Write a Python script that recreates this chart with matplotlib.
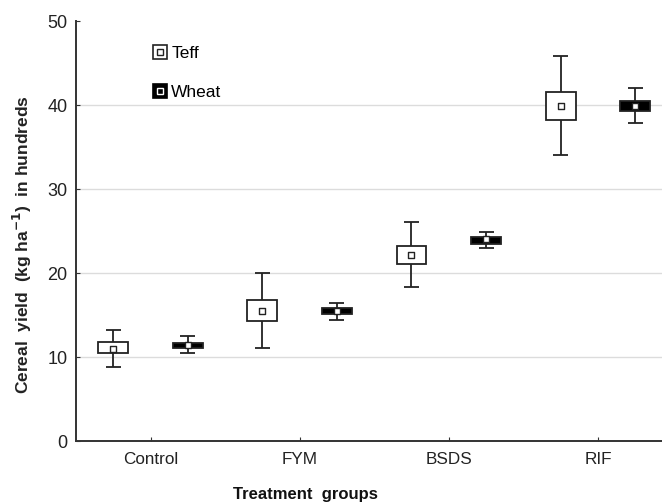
import matplotlib
matplotlib.use("Agg")
import matplotlib.pyplot as plt
import numpy as np

plt.rcParams['font.family'] = ['Liberation Sans', 'DejaVu Sans']

categories = ["Control", "FYM", "BSDS", "RIF"]

teff_mean = [11.0, 15.5, 22.1, 39.9]
teff_box_low = [10.45, 14.3, 21.1, 38.2]
teff_box_high = [11.75, 16.8, 23.25, 41.6]
teff_whisk_low = [8.8, 11.1, 18.3, 34.0]
teff_whisk_high = [13.25, 20.0, 26.1, 45.8]

wheat_mean = [11.4, 15.45, 24.0, 39.9]
wheat_box_low = [11.1, 15.1, 23.5, 39.3]
wheat_box_high = [11.7, 15.8, 24.3, 40.5]
wheat_whisk_low = [10.5, 14.4, 23.0, 37.9]
wheat_whisk_high = [12.45, 16.45, 24.9, 42.0]

yticks = [0, 10, 20, 30, 40, 50]

fig = plt.figure(figsize=(6.62, 5.04), dpi=100)
ax = fig.add_axes([0.1148, 0.125, 1.0 - 0.1148, 0.9583 - 0.125])

x = np.arange(len(categories))
off = 0.25
bw = 0.2
cw = 0.1
lw = 1.3

def draw(xpos, mean, blo, bhi, wlo, whi, face):
    xpos = np.asarray(xpos)
    ax.vlines(xpos, wlo, blo, color='#222222', lw=lw, zorder=2)
    ax.vlines(xpos, bhi, whi, color='#222222', lw=lw, zorder=2)
    ax.hlines(wlo, xpos - cw / 2, xpos + cw / 2, color='#222222', lw=lw, zorder=2)
    ax.hlines(whi, xpos - cw / 2, xpos + cw / 2, color='#222222', lw=lw, zorder=2)
    ax.bar(xpos, np.array(bhi) - np.array(blo), bottom=blo, width=bw,
           color=face, edgecolor='#222222', linewidth=lw, zorder=3)
    ax.scatter(xpos, mean, marker='s', s=20, facecolor='white',
               edgecolor='#222222', linewidth=1.0, zorder=4)

draw(x - off, teff_mean, teff_box_low, teff_box_high, teff_whisk_low, teff_whisk_high, 'white')
draw(x + off, wheat_mean, wheat_box_low, wheat_box_high, wheat_whisk_low, wheat_whisk_high, 'black')

ax.set_xlim(-0.5, 3.43)
ax.set_ylim(0, 50)
ax.set_xticks(x)
ax.set_xticklabels(categories, fontsize=12.3, color='#222222')
ax.set_yticks(yticks)
ax.set_yticklabels([str(v) for v in yticks], fontsize=13, color='#222222')
ax.tick_params(axis='x', direction='in', length=3, pad=8, color='#333333')
ax.tick_params(axis='y', direction='in', length=3, pad=6, color='#333333')
for s in ['top', 'right']:
    ax.spines[s].set_visible(False)
for s in ['left', 'bottom']:
    ax.spines[s].set_color('#333333')
    ax.spines[s].set_linewidth(1.4)
ax.yaxis.grid(True, color='#dcdcdc', lw=1.0, zorder=0)
ax.yaxis.get_gridlines()[-1].set_visible(False)
ax.set_axisbelow(True)

fig.text(22 / 662, 0.514, "Cereal  yield  (kg ha$^{\\mathbf{-1}}$)  in hundreds",
         fontsize=12.5, fontweight='bold', color='#222222', rotation=90,
         ha='center', va='center')
fig.text(0.462, 0.004, "Treatment  groups", fontsize=12, fontweight='bold',
         color='#111111', ha='center', va='bottom')

h1 = (plt.Line2D([], [], marker='s', ls='', markersize=10, markerfacecolor='white',
                 markeredgecolor='#222222', markeredgewidth=1.2),
      plt.Line2D([], [], marker='s', ls='', markersize=4, markerfacecolor='white',
                 markeredgecolor='#222222', markeredgewidth=1.0))
h2 = (plt.Line2D([], [], marker='s', ls='', markersize=10, markerfacecolor='black',
                 markeredgecolor='black', markeredgewidth=1.2),
      plt.Line2D([], [], marker='s', ls='', markersize=4, markerfacecolor='black',
                 markeredgecolor='white', markeredgewidth=1.0))
leg = ax.legend([h1, h2], ["Teff", "Wheat"], loc='upper left',
                bbox_to_anchor=(0.105, 0.977), frameon=False, fontsize=12.5,
                handlelength=0.8, handletextpad=0.25, labelspacing=1.34)

fig.savefig("out.png", dpi=100)
